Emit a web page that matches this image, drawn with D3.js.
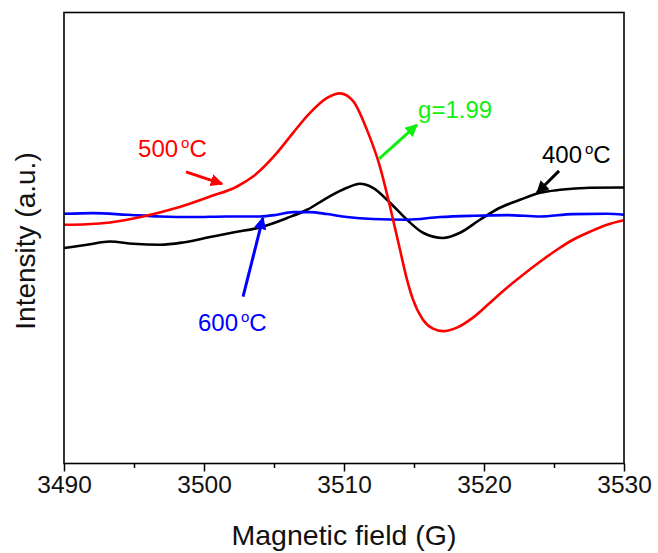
<!DOCTYPE html>
<html>
<head>
<meta charset="utf-8">
<script src="https://cdn.jsdelivr.net/npm/d3@7/dist/d3.min.js"></script>
<style>
  html, body { margin: 0; padding: 0; background: #fff; }
  svg { display: block; }
  text { font-family: Arial, "Liberation Sans", sans-serif; }
</style>
</head>
<body>
<svg id="chart" width="658" height="553"></svg>
<script>
// ---- Data ----
const xTicks = [3490, 3500, 3510, 3520, 3530];
const xMinorTicks = [3495, 3505, 3515, 3525];
const xLabel = "Magnetic field (G)";
const yLabel = "Intensity (a.u.)";

const field400 = [3490, 3491.64, 3493.29, 3494.93, 3496.86, 3498.5, 3500.43, 3502.07, 3504.0, 3505.93, 3507.36, 3508.79, 3510.21, 3511.14, 3512.07, 3513.29, 3514.5, 3515.64, 3517.07, 3518.29, 3519.71, 3521.14, 3522.57, 3524.0, 3525.43, 3527.57, 3530];
const int400 = [-32.3, -29, -25.7, -28, -29, -26.7, -21.3, -16.7, -11.7, -2.3, 6, 18, 28, 32, 28, 13, -4, -17, -22.3, -17, -4, 8, 16, 23, 26, 28, 28.3];

const field500 = [3490, 3491.64, 3493.29, 3495.64, 3498.07, 3500.43, 3502.36, 3503.5, 3505.21, 3506.36, 3507.57, 3508.79, 3509.71, 3510.64, 3511.64, 3512.57, 3513.29, 3514.0, 3514.5, 3514.93, 3515.64, 3516.36, 3517.07, 3518.07, 3519.21, 3520.43, 3521.64, 3522.79, 3524.0, 3525.21, 3526.36, 3527.57, 3528.79, 3530];
const int500 = [-9, -8.5, -6.7, -0.7, 8, 19.3, 29.3, 39.3, 63, 83, 103, 118, 122.5, 115, 86, 49, 9, -34, -64, -84, -104, -113, -115.5, -112, -102, -87, -72, -59, -46, -34, -24, -16, -9, -4.5];

const field600 = [3490, 3492.07, 3494.5, 3496.86, 3499.21, 3501.64, 3504, 3505.21, 3506.36, 3507.57, 3508.79, 3510.21, 3512.07, 3514.5, 3516.86, 3519.21, 3521.64, 3524, 3526.36, 3528.79, 3530];
const int600 = [2, 2.7, 1, -0.7, -1.3, -0.7, -0.7, 1, 3.7, 3.7, 1.7, -1.3, -3.3, -4, -1.3, 0, 0.7, -0.7, 1.7, 2, 1];

const seriesNames = ["400", "500", "600"];
const seriesColors = ["#000000", "#ff0000", "#0000ff"];

// annotation labels (data units): text, x, y, arrow from (x1,y1) to (x2,y2)
const annTexts = ["400", "500", "600", "g=1.99"];
const annDeg = [true, true, true, false];
const annColors = ["#000000", "#ff0000", "#0000ff", "#11ee11"];
const annX = [3524.14, 3495.29, 3499.57, 3515.29];
const annY = [53, 59, -115, 98];
const arrX1 = [3525.36, 3498.71, 3502.79, 3512.5];
const arrY1 = [45, 44, -81, 57];
const arrX2 = [3523.79, 3501.29, 3504.21, 3515.21];
const arrY2 = [23, 32, -2, 91];

// ---- Chart ----
const svg = d3.select("#chart");
const margin = {left: 64, right: 34, top: 12.5, bottom: 89.5};
const W = 658, H = 553;
const x = d3.scaleLinear().domain([3490, 3530]).range([margin.left, W - margin.right]);
const y = d3.scaleLinear().domain([-248, 203.5]).range([H - margin.bottom, margin.top]);

svg.append("defs").append("clipPath").attr("id", "clip")
  .append("rect").attr("x", x(3490)).attr("y", y(203.5))
  .attr("width", x(3530) - x(3490)).attr("height", y(-248) - y(203.5));

const line = d3.line().x(d => x(d[0])).y(d => y(d[1])).curve(d3.curveMonotoneX);

const allSeries = [
  d3.zip(field400, int400),
  d3.zip(field500, int500),
  d3.zip(field600, int600)
];

const gLines = svg.append("g").attr("clip-path", "url(#clip)");
const order = [0, 2, 1];
order.forEach(i => {
  gLines.append("path")
    .datum(allSeries[i])
    .attr("fill", "none")
    .attr("stroke", seriesColors[i])
    .attr("stroke-width", 2.6)
    .attr("stroke-linejoin", "round")
    .attr("d", line);
});

// Axes
const xAxis = d3.axisBottom(x).tickValues(xTicks).tickFormat(d3.format("d")).tickSizeOuter(0).tickSize(8);
const gx = svg.append("g").attr("transform", `translate(0,${y(-248)})`).call(xAxis);
gx.select(".domain").remove();
gx.selectAll(".tick line").attr("stroke", "#000").attr("stroke-width", 1.5);
gx.selectAll(".tick text").attr("font-size", 24.5).attr("fill", "#111").attr("y", 12).attr("dy", "0.71em")
  .style("font-family", "Arial, 'Liberation Sans', sans-serif");

const gxm = svg.append("g").attr("transform", `translate(0,${y(-248)})`)
  .call(d3.axisBottom(x).tickValues(xMinorTicks).tickFormat("").tickSize(4.5));
gxm.select(".domain").remove();
gxm.selectAll(".tick line").attr("stroke", "#000").attr("stroke-width", 1.5);

// frame
svg.append("rect")
  .attr("x", x(3490)).attr("y", y(203.5))
  .attr("width", x(3530) - x(3490)).attr("height", y(-248) - y(203.5))
  .attr("fill", "none").attr("stroke", "#000").attr("stroke-width", 1.6);

// Axis titles
svg.append("text").attr("x", (x(3490) + x(3530)) / 2).attr("y", 545)
  .attr("text-anchor", "middle").attr("font-size", 28.5).attr("fill", "#111").text(xLabel);
svg.append("text").attr("transform", `translate(35,${241}) rotate(-90)`)
  .attr("text-anchor", "middle").attr("font-size", 28).attr("fill", "#111").text(yLabel);

// arrowhead markers
const defs = svg.select("defs");
annColors.forEach((c, i) => {
  defs.append("marker").attr("id", "arr" + i)
    .attr("viewBox", "0 0 10 10").attr("refX", 9).attr("refY", 5)
    .attr("markerWidth", 4.2).attr("markerHeight", 4.2)
    .attr("markerUnits", "strokeWidth")
    .attr("orient", "auto")
    .append("path").attr("d", "M0,0 L10,5 L0,10 Z").attr("fill", c);
});

annTexts.forEach((t, i) => {
  svg.append("line")
    .attr("x1", x(arrX1[i])).attr("y1", y(arrY1[i]))
    .attr("x2", x(arrX2[i])).attr("y2", y(arrY2[i]))
    .attr("stroke", annColors[i]).attr("stroke-width", 3)
    .attr("marker-end", `url(#arr${i})`);
  const tx = svg.append("text").attr("x", x(annX[i])).attr("y", y(annY[i]))
    .attr("font-size", 24).attr("fill", annColors[i]);
  tx.append("tspan").text(t);
  if (annDeg[i]) {
    tx.append("tspan").attr("dx", 3).attr("dy", -9).attr("font-size", 15).text("o");
    tx.append("tspan").attr("dy", 9).text("C");
  }
});
</script>
</body>
</html>
